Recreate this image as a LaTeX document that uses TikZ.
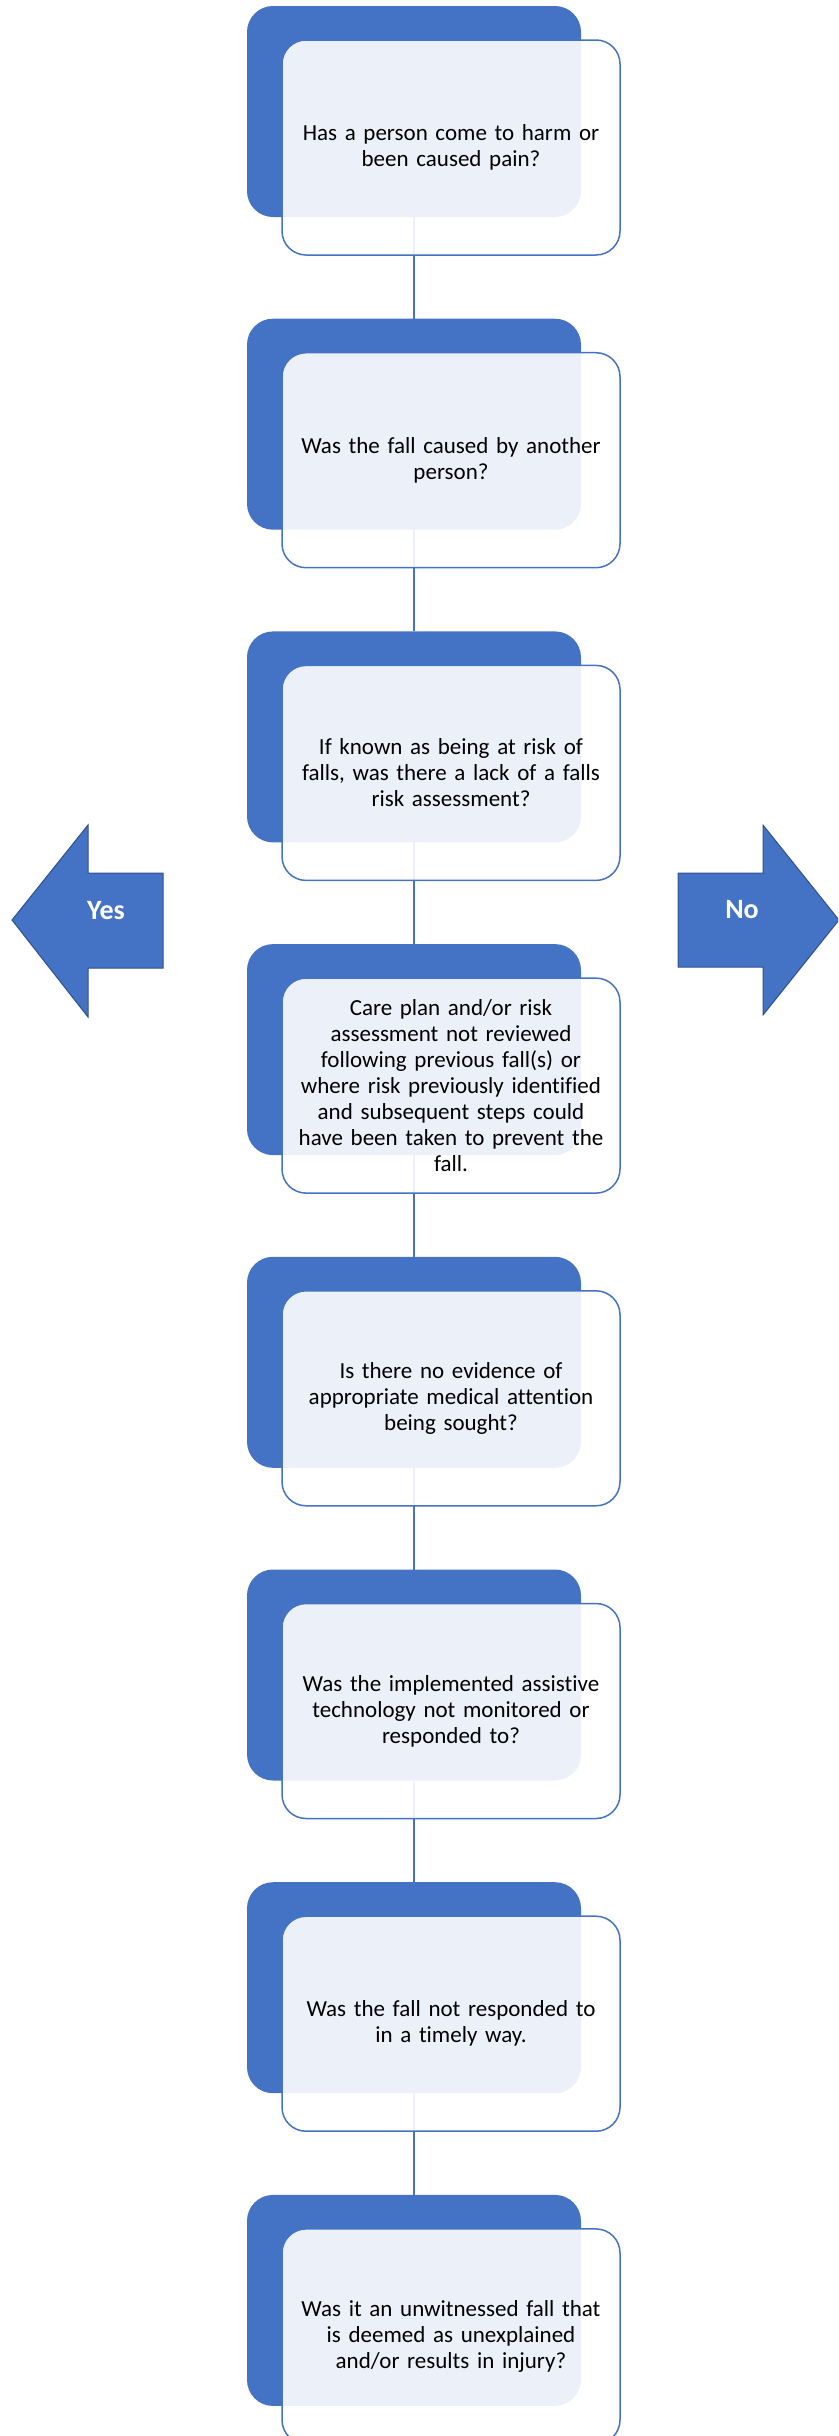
\documentclass[tikz,border=0pt]{standalone}
\usepackage{fontspec}
\setmainfont[Ligatures=NoCommon]{Carlito}
\definecolor{boxblue}{HTML}{4472C4}
\definecolor{arrowline}{HTML}{2F528F}

\begin{document}
\begin{tikzpicture}[x=1pt,y=-1pt,
    back/.style={fill=boxblue,rounded corners=26pt,minimum width=334pt,minimum height=211pt,inner sep=0pt,outer sep=0pt},
    front/.style={draw=boxblue,line width=1.5pt,fill=white,fill opacity=0.9,text opacity=1,rounded corners=24pt,
      minimum width=338pt,minimum height=215pt,text width=318pt,align=center,inner sep=0pt,outer sep=0pt,
      font=\fontsize{23}{26}\selectfont},
    link/.style={draw=boxblue,line width=2pt},
    bigarrow/.style={fill=boxblue,draw=arrowline,line width=1pt},
    arrowlabel/.style={text=white,anchor=base,font=\fontsize{28}{34}\selectfont\bfseries}]
      \useasboundingbox (0,0) rectangle (838,2436);
      \clip (0,0) rectangle (838,2436);
      % back boxes
      \foreach \i in {1,...,8} {\pgfmathsetmacro\yy{111.5+(\i-1)*312.7} \node[back] (b\i) at (414,\yy) {}; }
      % links
      \foreach \i in {1,...,7} {\pgfmathtruncatemacro\j{\i+1} \draw[link] (b\i.south) -- (b\j.north); }
      % questions
      \node[front] (q1) at ([shift={(37,36)}]b1.center) {Has a person come to harm or\\ been caused pain?};
      \node[front] (q2) at ([shift={(37,36)}]b2.center) {Was the fall caused by another\\ person?};
      \node[front] (q3) at ([shift={(37,36)}]b3.center) {If known as being at risk of\\ falls, was there a lack of a falls\\ risk assessment?};
      \node[front] (q4) at ([shift={(37,36)}]b4.center) {Care plan and/or risk\\ assessment not reviewed\\ following previous fall(s) or\\ where risk previously identified\\ and subsequent steps could\\ have been taken to prevent the\\ fall.};
      \node[front] (q5) at ([shift={(37,36)}]b5.center) {Is there no evidence of\\ appropriate medical attention\\ being sought?};
      \node[front] (q6) at ([shift={(37,36)}]b6.center) {Was the implemented assistive\\ technology not monitored or\\ responded to?};
      \node[front] (q7) at ([shift={(37,36)}]b7.center) {Was the fall not responded to\\ in a timely way.};
      \node[front] (q8) at ([shift={(37,36)}]b8.center) {Was it an unwitnessed fall that\\ is deemed as unexplained\\ and/or results in injury?};
      % yes / no arrows
      \draw[bigarrow] (12,920) -- (88,825) -- (88,873) -- (163,873) -- (163,968) -- (88,968) -- (88,1017) -- cycle;
      \node[arrowlabel] (yes) at (106,919) {Yes};
      \draw[bigarrow] (678,873) -- (763,873) -- (763,825) -- (839,920) -- (763,1015) -- (763,967) -- (678,967) -- cycle;
      \node[arrowlabel] (no) at (742,918) {No};
   \end{tikzpicture}
\end{document}
